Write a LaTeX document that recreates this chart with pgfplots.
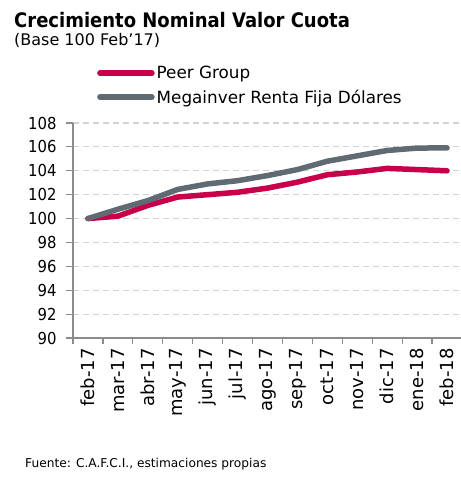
\documentclass[border=0pt]{standalone}
\usepackage{fontspec}
\setmainfont{DejaVu Sans}
\newfontfamily\condfont{DejaVu Sans Condensed}
\usepackage{pgfplots}
\pgfplotsset{compat=1.18}
\definecolor{peer}{RGB}{200,0,75}
\definecolor{mega}{RGB}{95,106,114}
\definecolor{axgray}{RGB}{140,140,140}
\definecolor{gridgray}{RGB}{210,210,210}
\begin{document}
\begin{tikzpicture}
\useasboundingbox (-73bp,-139bp) rectangle (388bp,338bp);
\begin{axis}[
  at={(0bp,0bp)}, anchor=south west,
  scale only axis, width=389bp, height=215bp,
  xmin=-0.5, xmax=12.5, ymin=90, ymax=108,
  ytick={90,92,...,108},
  xtick={0,...,12},
  xticklabels={feb-17,mar-17,abr-17,may-17,jun-17,jul-17,ago-17,sep-17,oct-17,nov-17,dic-17,ene-18,feb-18},
  minor xtick={-0.5,0.5,...,12.5},
  x tick label style={rotate=90, anchor=east, font=\fontsize{18bp}{21bp}\selectfont},
  y tick label style={font=\condfont\fontsize{16.5bp}{19bp}\selectfont, xshift=-6bp},
  /pgf/number format/assume math mode=true,
  axis x line*=bottom, axis y line*=left,
  axis line style={axgray, line width=1.2bp, -},
  every tick/.style={axgray, line width=1.2bp},
  major x tick style={draw=none},
  tick align=outside,
  major tick length=7bp, minor tick length=6bp,
  ymajorgrids,
  grid style={gridgray, dashed, line width=1.2bp, dash pattern=on 6bp off 4bp},
  legend style={draw=none, fill=none, at={(axis description cs:0,1)}, anchor=north west, xshift=24bp, yshift=59bp, font=\fontsize{16.8bp}{20bp}\selectfont, row sep=5.5bp, inner sep=0pt},
  legend cell align=left,
  legend image code/.code={\draw[#1, line width=5.5bp, line cap=round] (0bp,0bp) -- (52bp,0bp);},
  clip=false,
]
\addplot[peer, line width=5.5bp, line cap=round, line join=round] coordinates {
(0,100) (1,100.2) (2,101.1) (3,101.8) (4,102.0) (5,102.2) (6,102.55) (7,103.05) (8,103.67) (9,103.9) (10,104.2) (11,104.1) (12,104.0)};
\addlegendentry{Peer Group}
\addplot[mega, line width=5.5bp, line cap=round, line join=round] coordinates {
(0,100) (1,100.78) (2,101.5) (3,102.44) (4,102.9) (5,103.17) (6,103.6) (7,104.1) (8,104.8) (9,105.25) (10,105.7) (11,105.9) (12,105.92)};
\addlegendentry{Megainver Renta Fija Dólares}
\end{axis}
\node[anchor=base west, inner sep=0pt, font=\condfont\fontsize{20bp}{24bp}\selectfont\bfseries] at (-59bp,310bp) {Crecimiento Nominal Valor Cuota};
\node[anchor=base west, inner sep=0pt, font=\fontsize{16bp}{19bp}\selectfont] at (-59bp,292bp) {(Base 100 Feb'17)};
\node[anchor=base west, inner sep=0pt, font=\fontsize{12.2bp}{15bp}\selectfont] at (-48bp,-129bp) {Fuente: C.A.F.C.I., estimaciones propias};
\end{tikzpicture}
\end{document}
